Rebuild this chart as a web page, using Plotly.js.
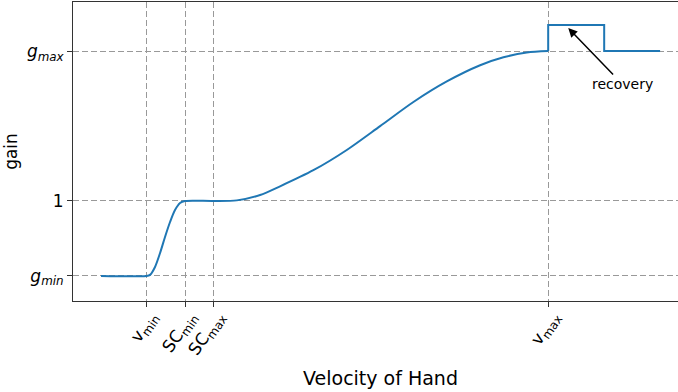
<!DOCTYPE html>
<html>
<head>
<meta charset="utf-8">
<script src="https://cdn.plot.ly/plotly-3.0.1.min.js"></script>
<style>
html, body { margin: 0; padding: 0; overflow: hidden; background: #fff; }
#chart { width: 700px; height: 392px; }
</style>
</head>
<body>
<div id="chart"></div>
<script>
// Velocity of hand (arbitrary units) and gain values
const velocity = [0, 5, 5.44, 6.0, 6.56, 7.11, 7.67, 8.22, 8.78, 9.33, 12.44, 15.08, 17.67, 19.89, 23.59, 27.3, 31.0, 34.7, 38.41, 42.11, 44.7, 47.3, 49.67];
const gain     = [0.5, 0.5, 0.507, 0.56, 0.653, 0.76, 0.86, 0.94, 0.987, 1.0, 1.0, 1.004, 1.04, 1.098, 1.205, 1.34, 1.499, 1.66, 1.797, 1.905, 1.958, 1.99, 2.0];
// Recovery step after v_max
const recoveryVelocity = [49.67, 49.67, 55.89, 55.89, 62.1];
const recoveryGain     = [2.0, 2.173, 2.173, 2.0, 2.0];

const xTickVals = [5, 9.33, 12.44, 49.67];
const xTickText = ['v<sub>min</sub>', 'SC<sub>min</sub>', 'SC<sub>max</sub>', 'v<sub>max</sub>'];
const yTickVals = [0.5, 1, 2];
const yTickText = ['<i>g</i><sub><i>min</i></sub>', '1', '<i>g</i><sub><i>max</i></sub>'];

const annText = 'recovery';
const annTip = [51.9, 2.153];

const lineStyle = { color: '#1f77b4', width: 2 };
const traces = [
  { x: velocity, y: gain, type: 'scatter', mode: 'lines', line: Object.assign({ shape: 'spline', smoothing: 0.8 }, lineStyle), hoverinfo: 'skip' },
  { x: recoveryVelocity, y: recoveryGain, type: 'scatter', mode: 'lines', line: lineStyle, hoverinfo: 'skip' }
];

const font = 'DejaVu Sans, sans-serif';
const layout = {
  width: 700, height: 392,
  margin: { l: 73, r: 12, t: 2, b: 91 },
  paper_bgcolor: '#fff', plot_bgcolor: '#fff',
  showlegend: false,
  font: { family: font, color: '#000' },
  xaxis: {
    range: [-3.11, 65.2],
    tickmode: 'array', tickvals: xTickVals, ticktext: xTickText, tickangle: -55,
    ticklabelshift: 5, ticklabelstandoff: -7,
    tickfont: { size: 17, family: font, color: '#000' },
    showgrid: true, gridcolor: '#999', griddash: '6px,3px', gridwidth: 1,
    zeroline: false, showline: true, linecolor: '#333', linewidth: 1, mirror: true,
    ticks: 'outside', ticklen: 5, tickcolor: '#333',
    title: { text: 'Velocity of Hand', font: { size: 19, family: font, color: '#000' }, standoff: 12 }
  },
  yaxis: {
    range: [0.333, 2.327],
    tickmode: 'array', tickvals: yTickVals, ticktext: yTickText,
    tickfont: { size: 17, family: font, color: '#000' },
    showgrid: true, gridcolor: '#999', griddash: '6px,3px', gridwidth: 1,
    zeroline: false, showline: true, linecolor: '#333', linewidth: 1, mirror: true,
    ticks: 'outside', ticklen: 5, tickcolor: '#333',
    title: { text: 'gain', font: { size: 17, family: font, color: '#000' }, standoff: 4 }
  },
  annotations: [{
    x: annTip[0], y: annTip[1], xref: 'x', yref: 'y',
    text: annText, showarrow: true,
    ax: 54, ay: 56,
    arrowhead: 2, arrowsize: 1.2, arrowwidth: 1.5, arrowcolor: '#000',
    font: { size: 14, family: font, color: '#000' }
  }]
};

Plotly.newPlot('chart', traces, layout, { displayModeBar: false, staticPlot: true });
</script>
</body>
</html>
